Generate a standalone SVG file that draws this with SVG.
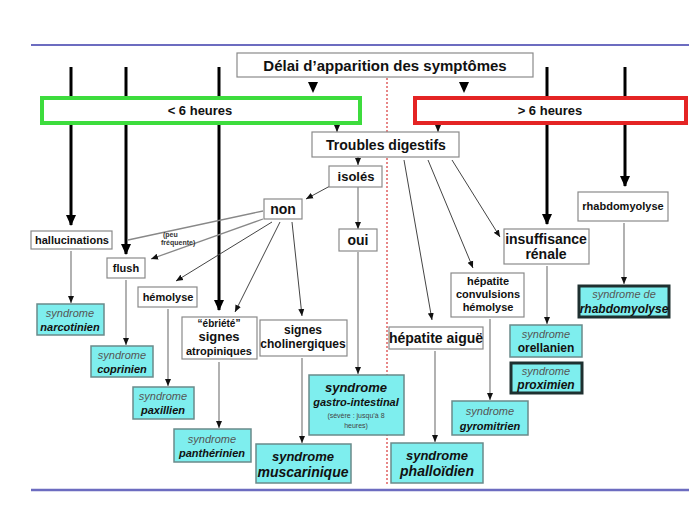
<svg xmlns="http://www.w3.org/2000/svg" width="689" height="517" viewBox="0 0 689 517">
<defs>
<marker id="big" markerUnits="userSpaceOnUse" markerWidth="11" markerHeight="10" refX="10" refY="5" orient="auto" viewBox="0 0 11 10"><path d="M0,0 L11,5 L0,10 Z" fill="#000"/></marker>
<marker id="sm" markerUnits="userSpaceOnUse" markerWidth="8" markerHeight="8" refX="7" refY="4" orient="auto" viewBox="0 0 8 8"><path d="M0,1 L7,4 L0,7 Z" fill="#111"/></marker>
</defs>
<style>
text{font-family:"Liberation Sans",Arial,sans-serif;text-anchor:middle;fill:#111}
.b{font-weight:bold}
.box{fill:#fff;stroke:#8a8a8a;stroke-width:1.2}
.syn{fill:#7eeeee;stroke:#6a8a8a;stroke-width:1.5}
.synk{fill:#7eeeee;stroke:#1e3030;stroke-width:3}
.s1{font-style:italic;fill:#555;font-size:11px}
.s2{font-style:italic;font-weight:bold;font-size:11px}
.thick{stroke:#000;stroke-width:3;fill:none}
.thin{stroke:#888;stroke-width:1.3;fill:none}
.dark{stroke:#444;stroke-width:1;fill:none}
.note{font-size:7px;font-weight:bold;fill:#333;text-anchor:start}
</style>
<rect width="689" height="517" fill="#fff"/>
<g id="frame">
<line x1="31" y1="45" x2="689" y2="45" stroke="#6c6cc0" stroke-width="2"/>
<line x1="31" y1="490" x2="689" y2="490" stroke="#6c6cc0" stroke-width="2.5"/>
<line x1="387" y1="78" x2="387" y2="484" stroke="#e06060" stroke-width="1.5" stroke-dasharray="2,2"/>
</g>
<g id="connectors">
<line class="thick" x1="71" y1="67" x2="71" y2="225" marker-end="url(#big)"/>
<line class="thick" x1="126" y1="67" x2="126" y2="254" marker-end="url(#big)"/>
<line class="thick" x1="219" y1="67" x2="219" y2="310" marker-end="url(#big)"/>
<line class="thick" x1="547" y1="67" x2="547" y2="224" marker-end="url(#big)"/>
<line class="thick" x1="625" y1="67" x2="625" y2="186" marker-end="url(#big)"/>
<path d="M308,82 L318,82 L313,93 Z" fill="#000"/>
<path d="M459,82 L469,82 L464,93 Z" fill="#000"/>
<line class="dark" x1="337" y1="124" x2="337" y2="132" marker-end="url(#sm)"/>
<line class="dark" x1="438" y1="124" x2="438" y2="132" marker-end="url(#sm)"/>
<line class="dark" x1="358" y1="157" x2="358" y2="165" marker-end="url(#sm)"/>
<line class="dark" x1="330" y1="186" x2="306" y2="199" marker-end="url(#sm)"/>
<line class="thin" x1="358" y1="187" x2="358" y2="229" stroke="#555" marker-end="url(#sm)"/>
<line class="thin" x1="263" y1="211" x2="128" y2="240"/>
<line class="thin" x1="263" y1="219" x2="151" y2="259" marker-end="url(#sm)"/>
<line class="dark" x1="272" y1="222" x2="176" y2="281" marker-end="url(#sm)"/>
<line class="dark" x1="280" y1="222" x2="235" y2="312" marker-end="url(#sm)"/>
<line class="dark" x1="292" y1="222" x2="302" y2="316" marker-end="url(#sm)"/>
<line class="dark" x1="404" y1="160" x2="432" y2="320" marker-end="url(#sm)"/>
<line class="dark" x1="428" y1="160" x2="473" y2="268" marker-end="url(#sm)"/>
<line class="dark" x1="452" y1="160" x2="500" y2="237" marker-end="url(#sm)"/>
<line class="thin" x1="71" y1="251" x2="71" y2="303" marker-end="url(#sm)"/>
<line class="thin" x1="126" y1="280" x2="126" y2="345" marker-end="url(#sm)"/>
<line class="thin" x1="168" y1="309" x2="168" y2="386" marker-end="url(#sm)"/>
<line class="thin" x1="219" y1="362" x2="219" y2="428" marker-end="url(#sm)"/>
<line class="thin" x1="302" y1="358" x2="302" y2="443" marker-end="url(#sm)"/>
<line class="thin" x1="358" y1="252" x2="358" y2="374" marker-end="url(#sm)"/>
<line class="thin" x1="435" y1="351" x2="435" y2="442" marker-end="url(#sm)"/>
<line class="thin" x1="490" y1="319" x2="490" y2="400" marker-end="url(#sm)"/>
<line class="thin" x1="547" y1="266" x2="547" y2="324" marker-end="url(#sm)"/>
<line class="thin" x1="624" y1="223" x2="624" y2="284" marker-end="url(#sm)"/>
<text x="163" y="237" class="note">(peu</text>
<text x="161" y="245" class="note">fréquente)</text>
</g>
<g id="delai"><rect class="box" x="237" y="53" width="296" height="24"/><text x="385" y="71" class="b" style="font-size:15px">Délai d’apparition des symptômes</text></g>
<g id="moins6"><rect x="42" y="98" width="318" height="25" fill="#fff" stroke="#3ddc3d" stroke-width="4"/><text x="200" y="115" class="b" style="font-size:13px">&lt; 6 heures</text></g>
<g id="plus6"><rect x="415" y="98" width="271" height="25" fill="#fff" stroke="#e42424" stroke-width="4"/><text x="550" y="115" class="b" style="font-size:13px">&gt; 6 heures</text></g>
<g id="troubles"><rect class="box" x="312" y="132" width="147" height="25"/><text x="386" y="150" class="b" style="font-size:14px">Troubles digestifs</text></g>
<g id="isoles"><rect class="box" x="329" y="166" width="53" height="21"/><text x="356" y="181" class="b" style="font-size:13px">isolés</text></g>
<g id="non"><rect class="box" x="264" y="199" width="38" height="20"/><text x="283" y="214" class="b" style="font-size:14px">non</text></g>
<g id="oui"><rect class="box" x="339" y="229" width="38" height="22"/><text x="358" y="245" class="b" style="font-size:14px">oui</text></g>
<g id="hallucinations"><rect class="box" x="31" y="231" width="81" height="18"/><text x="72" y="244" class="b" style="font-size:11px">hallucinations</text></g>
<g id="flush"><rect class="box" x="107" y="258" width="38" height="20"/><text x="126" y="272" class="b" style="font-size:11px">flush</text></g>
<g id="hemolyse"><rect class="box" x="138" y="287" width="59" height="20"/><text x="168" y="301" class="b" style="font-size:11px">hémolyse</text></g>
<g id="ebriete"><rect class="box" x="182" y="317" width="75" height="42"/><text x="219" y="327" class="b" style="font-size:10px">“ébriété”</text><text x="219" y="341" class="b" style="font-size:13px">signes</text><text x="219" y="355" class="b" style="font-size:11px">atropiniques</text></g>
<g id="cholinergiques"><rect class="box" x="260" y="320" width="87" height="36"/><text x="303" y="334" class="b" style="font-size:12px">signes</text><text x="303" y="348" class="b" style="font-size:12px">cholinergiques</text></g>
<g id="hepatite-aigue"><rect class="box" x="389" y="327" width="94" height="22"/><text x="436" y="343" class="b" style="font-size:14px">hépatite aiguë</text></g>
<g id="hepatite-conv"><rect class="box" x="451" y="273" width="73" height="44"/><text x="488" y="285" class="b" style="font-size:11px">hépatite</text><text x="488" y="298" class="b" style="font-size:11px">convulsions</text><text x="488" y="311" class="b" style="font-size:11px">hémolyse</text></g>
<g id="insuffisance"><rect class="box" x="504" y="229" width="85" height="35"/><text x="546" y="244" class="b" style="font-size:14px">insuffisance</text><text x="546" y="259" class="b" style="font-size:14px">rénale</text></g>
<g id="rhabdo"><rect class="box" x="578" y="192" width="90" height="29"/><text x="623" y="210" class="b" style="font-size:11px">rhabdomyolyse</text></g>
<g id="narcotinien"><rect class="syn" x="37" y="304" width="67" height="31"/><text x="70" y="317" class="s1">syndrome</text><text x="70" y="331" class="s2">narcotinien</text></g>
<g id="coprinien"><rect class="syn" x="91" y="346" width="62" height="31"/><text x="122" y="359" class="s1">syndrome</text><text x="122" y="373" class="s2">coprinien</text></g>
<g id="paxillien"><rect class="syn" x="133" y="387" width="61" height="32"/><text x="163" y="400" class="s1">syndrome</text><text x="163" y="414" class="s2">paxillien</text></g>
<g id="pantherinien"><rect class="syn" x="174" y="429" width="77" height="33"/><text x="212" y="443" class="s1">syndrome</text><text x="212" y="457" class="s2">panthérinien</text></g>
<g id="muscarinique"><rect class="syn" x="256" y="444" width="95" height="39"/><text x="303" y="461" class="s2" style="font-size:13px">syndrome</text><text x="303" y="477" class="s2" style="font-size:14px">muscarinique</text></g>
<g id="gastro"><rect class="syn" x="309" y="375" width="95" height="60"/><text x="356" y="392" class="s2" style="font-size:13px">syndrome</text><text x="356" y="406" class="s2" style="font-size:11px">gastro-intestinal</text><text x="356" y="418" style="font-size:7px;fill:#444">(sévère : jusqu’à 8</text><text x="356" y="428" style="font-size:7px;fill:#444">heures)</text></g>
<g id="phalloidien"><rect class="syn" x="391" y="443" width="92" height="40"/><text x="437" y="460" class="s2" style="font-size:13px">syndrome</text><text x="437" y="476" class="s2" style="font-size:14px">phalloïdien</text></g>
<g id="gyromitrien"><rect class="syn" x="452" y="401" width="76" height="34"/><text x="490" y="415" class="s1">syndrome</text><text x="490" y="430" class="s2">gyromitrien</text></g>
<g id="orellanien"><rect class="syn" x="510" y="325" width="72" height="32"/><text x="546" y="338" class="s1">syndrome</text><text x="546" y="352" class="b" style="font-size:12px">orellanien</text></g>
<g id="proximien"><rect class="synk" x="511" y="363" width="71" height="30"/><text x="546" y="375" class="s1">syndrome</text><text x="546" y="389" class="s2" style="font-size:12px">proximien</text></g>
<g id="syn-rhabdo"><rect class="synk" x="579" y="286" width="90" height="31"/><text x="624" y="298" class="s1">syndrome de</text><text x="624" y="313" class="s2" style="font-size:12px">rhabdomyolyse</text></g>
</svg>
